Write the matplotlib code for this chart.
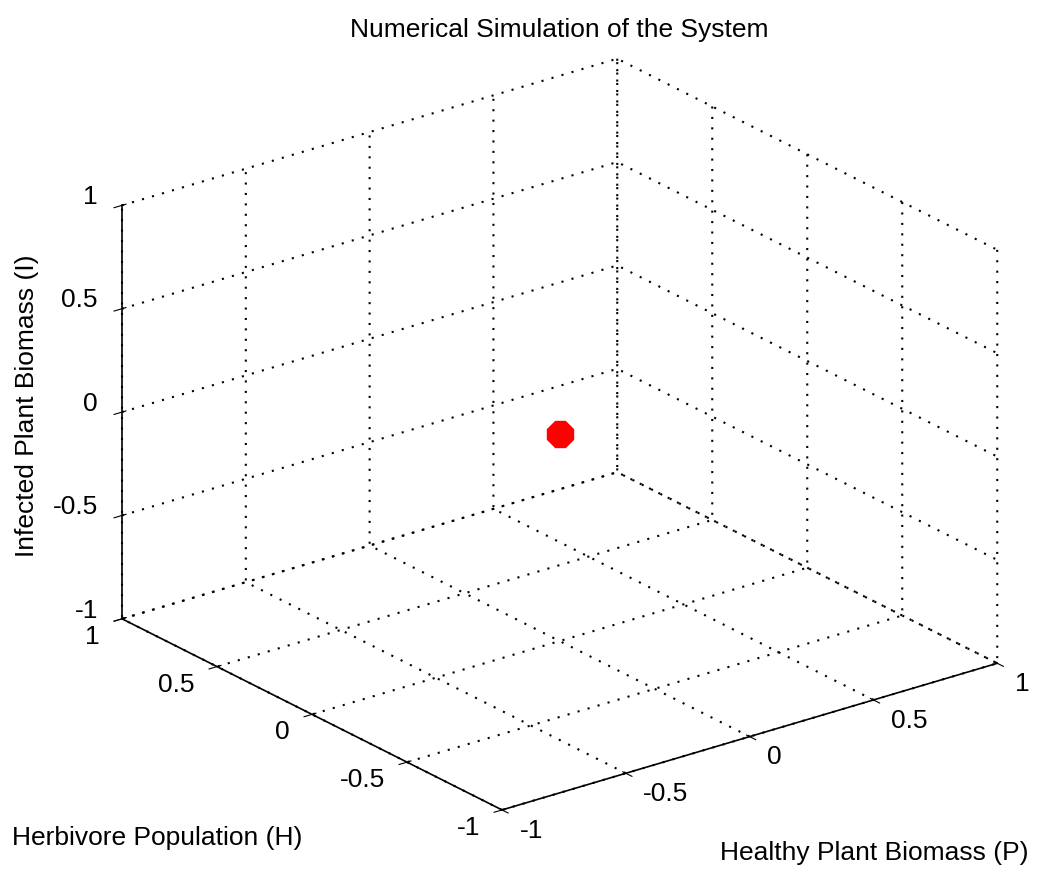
import numpy as np
import matplotlib
matplotlib.use("Agg")
import matplotlib.pyplot as plt

# datos: punto de equilibrio del sistema (P, H, I)
P = [0.0]
H = [0.0]
I = [0.0]
ticks = [-1, -0.5, 0, 0.5, 1]
tick_labels = ['-1', '-0.5', '0', '0.5', '1']

plt.rcParams['font.family'] = ['Liberation Sans', 'DejaVu Sans']
plt.rcParams['grid.linestyle'] = ':'
plt.rcParams['grid.color'] = 'black'
plt.rcParams['grid.linewidth'] = 1.5
plt.rcParams['axes3d.automargin'] = False

fig = plt.figure(figsize=(10.43, 8.69), dpi=100)
ax = fig.add_axes([0.0253, -0.0133, 1.0, 1.0], projection='3d', proj_type='ortho')
ax.view_init(elev=22.7, azim=-127.5)
ax.set_box_aspect((1, 1, 0.718), zoom=1.106)

ax.plot(P, H, I, '8', color='red', markersize=20)

ax.set_xlim(-1, 1)
ax.set_ylim(-1, 1)
ax.set_zlim(-1, 1)
for axis in (ax.xaxis, ax.yaxis, ax.zaxis):
    axis.set_ticks(ticks)
    axis.set_ticklabels(tick_labels, fontsize=19)
    axis.set_pane_color((1, 1, 1, 0))
    axis.pane.set_edgecolor('none')
    axis.line.set_color('black')
    axis.line.set_linewidth(1.2)
    axis._axinfo['grid']['linestyle'] = (0, (1, 4))

# alineacion de las etiquetas como en matlab
for lab in ax.xaxis.get_ticklabels():
    lab.set_horizontalalignment('left')
    lab.set_verticalalignment('baseline')
for lab in ax.yaxis.get_ticklabels():
    lab.set_horizontalalignment('right')
    lab.set_verticalalignment('baseline')
for lab in ax.zaxis.get_ticklabels():
    lab.set_horizontalalignment('right')
    lab.set_verticalalignment('baseline')
ax.xaxis.set_tick_params(pad=7)
ax.yaxis.set_tick_params(pad=6.5)
ax.zaxis.set_tick_params(pad=1)

fig.text(0.536, 0.966, 'Numerical Simulation of the System', fontsize=19, ha='center', va='center')
fig.text(0.026, 0.533, 'Infected Plant Biomass (I)', fontsize=19, rotation=90, ha='center', va='center')
fig.text(0.151, 0.036, 'Herbivore Population (H)', fontsize=19, ha='center', va='center')
fig.text(0.838, 0.018, 'Healthy Plant Biomass (P)', fontsize=19, ha='center', va='center')

fig.savefig('out.png', dpi=100)
